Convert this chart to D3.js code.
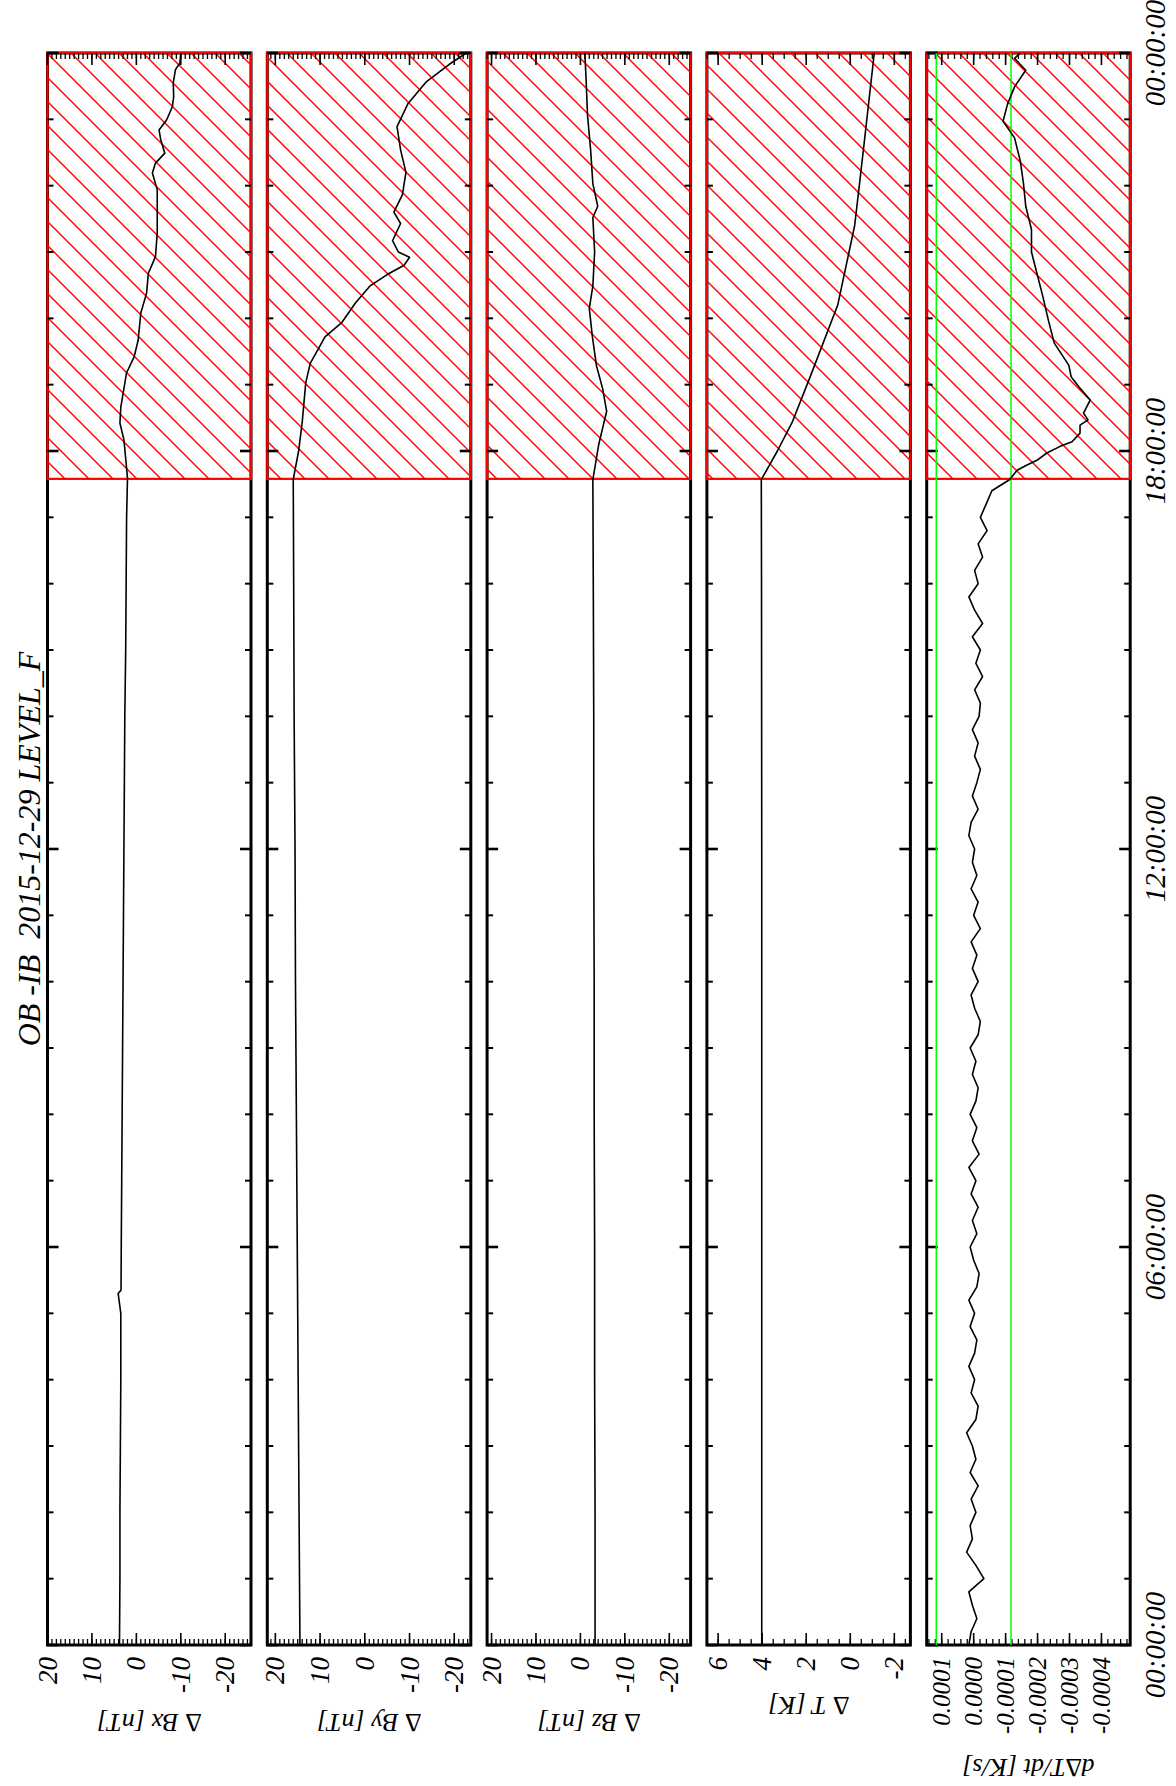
<!DOCTYPE html>
<html>
<head>
<meta charset="utf-8">
<script src="https://cdn.jsdelivr.net/npm/d3@7/dist/d3.min.js"></script>
<style>
  body { margin: 0; background: #fff; }
  svg { display: block; }
  text { font-family: "Liberation Serif", "DejaVu Serif", serif; font-style: italic; fill: #000; white-space: pre; }
</style>
</head>
<body>
<svg id="chart" width="1176" height="1786"></svg>
<script>
// time axis
const hourTicks = [0, 6, 12, 18, 24];
const timeLabels = ["00:00:00", "06:00:00", "12:00:00", "18:00:00", "00:00:00"];
const hatchStart = 17.58;
const title = "OB -IB  2015-12-29 LEVEL_F";

// value axis ticks
const bTicks = [20, 10, 0, -10, -20];
const tTicks = [6, 4, 2, 0, -2];
const dtTicks = [0.0001, 0, -0.0001, -0.0002, -0.0003, -0.0004];
const dtLimits = [0.000117, -0.000117];

// Delta Bx [nT]
const bxHours = [0, 1, 2, 3, 4, 5, 5.3, 5.35, 6, 7, 8, 9, 10, 11, 12, 13, 14, 15, 16, 17, 17.58,
  17.67, 18.17, 18.42, 18.66, 19.18, 19.42, 19.67, 20.08, 20.38, 20.68, 20.93, 21.29, 21.68,
  21.94, 22.19, 22.34, 22.49, 22.69, 22.84, 22.99, 23.19, 23.34, 23.55, 23.75, 23.85, 24.0];
const bxValues = [3.8, 3.7, 3.7, 3.6, 3.5, 3.5, 4.1, 3.45, 3.4, 3.3, 3.2, 3.1, 3.0, 2.9, 2.8, 2.7, 2.6, 2.4, 2.3, 2.2, 2.0,
  2.1, 2.8, 3.7, 3.5, 2.2, 0.5, -0.4, -1.0, -2.3, -2.7, -4.3, -4.7, -4.7,
  -4.7, -3.6, -4.3, -6.4, -5.5, -5.1, -6.8, -8.1, -8.4, -8.3, -8.8, -9.8, -10.0];

// Delta By [nT]
const byHours = [0, 2, 4, 6, 8, 10, 12, 14, 16, 17.57,
  18.0, 18.43, 19.03, 19.32, 19.72, 19.94, 20.23, 20.49, 20.66, 20.8, 20.92, 21.0, 21.17,
  21.43, 21.6, 21.86, 22.2, 22.54, 22.89, 23.23, 23.57, 23.83, 24.0];
const byValues = [14.5, 14.7, 14.9, 15.1, 15.3, 15.5, 15.6, 15.8, 15.9, 16.0,
  14.8, 14.0, 13.2, 12.2, 8.9, 5.1, 2.1, -1.2, -5.0, -8.8, -10.0, -7.5, -6.2,
  -8.0, -6.5, -8.4, -9.2, -8.0, -7.2, -9.6, -13.8, -18.9, -22.7];

// Delta Bz [nT]
const bzHours = [0, 2, 4, 6, 8, 10, 12, 14, 16, 17.57,
  18.09, 18.6, 18.94, 19.29, 19.72, 20.15, 20.49, 21.0, 21.52, 21.69, 22.03, 22.54, 23.06, 23.57, 24.0];
const bzValues = [-3.3, -3.3, -3.2, -3.2, -3.1, -3.1, -3.0, -3.0, -2.9, -2.8,
  -4.1, -5.9, -5.0, -3.6, -2.7, -2.0, -2.8, -3.2, -2.8, -3.9, -2.8, -2.3, -1.6, -1.3, -1.0];

// Delta T [K]
const tHours = [0, 4, 8, 12, 16, 17.57, 18.0, 18.43, 19.17, 20.2, 21.4, 22.55, 23.29, 24.0];
const tValues = [4.02, 4.02, 4.02, 4.02, 4.03, 4.04, 3.31, 2.64, 1.76, 0.57, -0.2, -0.6, -0.85, -1.09];

// d Delta T / dt, in units of 1e-5 K/s
const dtHours = [0.0, 0.2, 0.4, 0.6, 0.8, 1.0, 1.2, 1.4, 1.6, 1.8, 2.0, 2.2, 2.4, 2.6, 2.8,
  3.0, 3.2, 3.4, 3.6, 3.8, 4.0, 4.2, 4.4, 4.6, 4.8, 5.0, 5.2, 5.4, 5.6, 5.8,
  6.0, 6.2, 6.4, 6.6, 6.8, 7.0, 7.2, 7.4, 7.6, 7.8, 8.0, 8.2, 8.4, 8.6, 8.8,
  9.0, 9.2, 9.4, 9.6, 9.8, 10.0, 10.2, 10.4, 10.6, 10.8, 11.0, 11.2, 11.4, 11.6, 11.8,
  12.0, 12.2, 12.4, 12.6, 12.8, 13.0, 13.2, 13.4, 13.6, 13.8, 14.0, 14.2, 14.4, 14.6, 14.8,
  15.0, 15.2, 15.4, 15.6, 15.8, 16.0, 16.2, 16.4, 16.6, 16.8, 17.0, 17.2, 17.4, 17.57,
  17.71, 17.79, 17.86, 17.97, 18.07, 18.14, 18.27, 18.39, 18.47, 18.57, 18.77, 18.94, 19.12,
  19.29, 19.63, 19.97, 20.32, 20.66, 21.0, 21.34, 21.69, 22.03, 22.37, 22.72, 22.97, 23.23,
  23.49, 23.74, 23.92, 24.0];
const dtValues = [1.5, 0.8, -1.0, 0.4, 1.5, -3.2, -0.7, 2.2, 0.4, 1.1, -0.7, 0.8, -1.4, 1.1, -0.7,
  0.4, 2.2, -0.7, -1.4, 0.8, -0.3, 1.5, -0.3, -1.0, 1.1, -0.3, 1.5, -1.0, -1.7, 0.0,
  1.1, -1.0, 0.4, -1.4, 0.8, -0.7, 1.5, -1.7, 0.4, -1.0, 1.1, -0.7, -1.4, 0.4, -0.7,
  1.1, -1.4, -2.1, -0.3, 0.8, -1.4, 0.4, -1.0, 0.8, -2.1, 0.0, -1.4, 0.8, -1.0, 0.4,
  -0.3, 1.5, 0.8, -1.4, 0.4, -1.0, -2.1, -0.3, -1.4, 0.4, -1.7, -2.1, -0.3, -2.8, -0.7,
  -2.1, 0.4, -2.8, -0.3, 1.5, -1.4, -0.3, -2.8, -1.4, -4.2, -2.1, -3.9, -5.7, -11.3,
  -13.6, -16.7, -19.8, -22.9, -27.1, -30.8, -33.3, -33.3, -35.8, -34.4, -36.5, -33.4, -30.5,
  -29.8, -25.2, -23.4, -21.7, -19.9, -18.1, -18.1, -16.3, -15.6, -14.6, -12.8, -9.2, -10.6,
  -12.8, -16.3, -12.8, -14.6];

// layout is drawn landscape, then turned a quarter turn
const W = 1786;
const x0 = 141, x1 = 1733;
const panelTop = [47.5, 267.3, 487.1, 706.9, 926.7];
const panelH = 203.5;

const panels = [
  { name: "bx", label: "\u2206 Bx [nT]", domain: [-25.8, 20], ticks: bTicks, minor: d3.range(-25, 21, 1), fmt: d => String(d), hours: bxHours, values: bxValues, titleX: 64, fs: 27 },
  { name: "by", label: "\u2206 By [nT]", domain: [-23.7, 21.8], ticks: bTicks, minor: d3.range(-23, 22, 1), fmt: d => String(d), hours: byHours, values: byValues, titleX: 64, fs: 27 },
  { name: "bz", label: "\u2206 Bz [nT]", domain: [-24.8, 21], ticks: bTicks, minor: d3.range(-24, 22, 1), fmt: d => String(d), hours: bzHours, values: bzValues, titleX: 64, fs: 27 },
  { name: "t", label: "\u2206 T [K]", domain: [-2.73, 6.51], ticks: tTicks, minor: d3.range(-2.5, 6.6, 0.5), fmt: d => String(d), hours: tHours, values: tValues, titleX: 81, fs: 27 },
  { name: "dt", label: "d\u2206T/dt [K/s]", domain: [-0.00049, 0.000147], ticks: dtTicks, minor: d3.range(-0.00048, 0.00015, 0.00002), fmt: d => d.toFixed(4), hours: dtHours, values: dtValues.map(v => v * 1e-5), titleX: 19, fs: 25 }
];

const svg = d3.select("#chart");
svg.append("rect").attr("width", 1176).attr("height", 1786).attr("fill", "#fff");
const defs = svg.append("defs");

const root = svg.append("g")
  .attr("transform", `translate(0,${W}) rotate(-90)`);

const x = d3.scaleLinear().domain([0, 24]).range([x0, x1]);

root.append("text")
  .attr("x", (x0 + x1) / 2)
  .attr("y", 29)
  .attr("text-anchor", "middle")
  .attr("dominant-baseline", "central")
  .attr("font-size", "32px")
  .text(title);

panels.forEach((p, i) => {
  const top = panelTop[i];
  const y = d3.scaleLinear().domain(p.domain).range([top + panelH, top]);
  const g = root.append("g");

  // frame
  g.append("rect")
    .attr("x", x0).attr("y", top)
    .attr("width", x1 - x0).attr("height", panelH)
    .attr("fill", "none").attr("stroke", "#000").attr("stroke-width", 3);

  // hatched interval
  const hx = x(hatchStart);
  defs.append("clipPath").attr("id", "clip-" + p.name)
    .append("rect").attr("x", hx).attr("y", top).attr("width", x1 - hx).attr("height", panelH);
  const hatch = g.append("g").attr("clip-path", `url(#clip-${p.name})`);
  const cs = d3.range(4 + 24 * Math.floor((hx + top) / 24) - 24, x1 + top + panelH + 24, 24);
  hatch.selectAll("line").data(cs).join("line")
    .attr("x1", c => c - top).attr("y1", top)
    .attr("x2", c => c - top - panelH).attr("y2", top + panelH)
    .attr("stroke", "#ff0000").attr("stroke-width", 1.4);
  g.append("rect")
    .attr("x", hx).attr("y", top)
    .attr("width", x1 - hx).attr("height", panelH)
    .attr("fill", "none").attr("stroke", "#ff0000").attr("stroke-width", 2.2);

  // time ticks, both edges
  const hours = d3.range(0, 25, 1);
  [top, top + panelH].forEach((edge, k) => {
    const dir = k === 0 ? 1 : -1;
    g.append("g").selectAll("line").data(hours).join("line")
      .attr("x1", d => x(d)).attr("x2", d => x(d))
      .attr("y1", edge).attr("y2", d => edge + dir * (d % 6 === 0 ? 11 : 6))
      .attr("stroke", "#000").attr("stroke-width", d => d % 6 === 0 ? 2.6 : 2);
  });

  // value ticks, both edges
  [x0, x1].forEach((edge, k) => {
    const dir = k === 0 ? 1 : -1;
    g.append("g").selectAll("line").data(p.minor).join("line")
      .attr("x1", edge).attr("x2", edge + dir * 6)
      .attr("y1", d => y(d)).attr("y2", d => y(d))
      .attr("stroke", "#000").attr("stroke-width", 1.3);
    g.append("g").selectAll("line").data(p.ticks).join("line")
      .attr("x1", edge).attr("x2", edge + dir * 12)
      .attr("y1", d => y(d)).attr("y2", d => y(d))
      .attr("stroke", "#000").attr("stroke-width", 1.6);
  });

  // tick labels
  g.append("g").selectAll("text").data(p.ticks).join("text")
    .attr("x", x0 - 12)
    .attr("y", d => y(d))
    .attr("text-anchor", "end")
    .attr("dominant-baseline", "central")
    .attr("font-size", p.fs + "px")
    .text(p.fmt);

  // axis title
  g.append("text")
    .attr("transform", `translate(${p.titleX},${top + panelH / 2}) rotate(-90)`)
    .attr("text-anchor", "middle")
    .attr("dominant-baseline", "central")
    .attr("font-size", "26px")
    .text(p.label);

  // threshold lines
  if (p.name === "dt") {
    g.append("g").selectAll("line").data(dtLimits).join("line")
      .attr("x1", x0).attr("x2", x1)
      .attr("y1", d => y(d)).attr("y2", d => y(d))
      .attr("stroke", "#00ff00").attr("stroke-width", 1.5);
  }

  // trace
  const line = d3.line()
    .x((d, j) => x(p.hours[j]))
    .y(d => y(d));
  g.append("path")
    .datum(p.values)
    .attr("d", line)
    .attr("fill", "none")
    .attr("stroke", "#000")
    .attr("stroke-width", 1.6)
    .attr("stroke-linejoin", "round");
});

// time labels under the last panel
const last = panelTop[4] + panelH;
root.append("g").selectAll("text").data(hourTicks).join("text")
  .attr("x", d => x(d))
  .attr("y", last + 25)
  .attr("text-anchor", "middle")
  .attr("dominant-baseline", "central")
  .attr("font-size", "29px")
  .text((d, i) => timeLabels[i]);
</script>
</body>
</html>
